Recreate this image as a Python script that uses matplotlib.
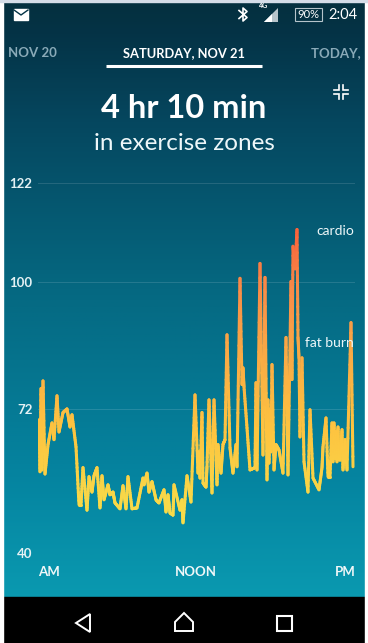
import numpy as np
import matplotlib
matplotlib.use('Agg')
import matplotlib.pyplot as plt
from matplotlib.collections import LineCollection
from matplotlib.colors import LinearSegmentedColormap
from matplotlib.patches import Rectangle, Polygon

plt.rcParams['font.family'] = ['Lato', 'DejaVu Sans']

# position along the day (about 4.6 min per step) and heart rate
sample = [0, 1, 2, 3, 4, 6, 9, 13, 15, 18, 20, 24, 28, 31, 33, 37, 40, 42, 44, 48, 50, 53, 55,
          58, 61, 63, 65, 69, 71, 74, 76, 81, 84, 87, 89, 93, 98, 104, 105, 108, 110, 113, 117,
          120, 125, 127, 129, 131, 134, 135, 141, 143, 144, 148, 152, 156, 159, 160, 161, 163,
          164, 167, 168, 170, 173, 175, 178, 179, 182, 184, 186, 188, 191, 194, 197, 198, 201,
          203, 204, 205, 208, 211, 216, 217, 218, 221, 224, 226, 228, 229, 230, 231, 232, 233,
          235, 237, 240, 244, 247, 249, 252, 253, 254, 256, 258, 259, 260, 261, 263, 265, 269, 271,
          274, 280, 283, 284, 287, 289, 291, 293, 294, 295, 296, 297, 298, 299, 300, 301, 303,
          304, 306, 308, 312, 314]
bpm = [69.6, 58.1, 76.5, 58.5, 78.2, 57.6, 64.1, 68.9, 65.2, 74.9, 66.9, 71.2, 72.0, 68, 70.7,
       63.6, 50.8, 50.8, 59, 49.6, 57, 53.6, 57.2,
       59, 50.1, 57.2, 51.9, 55.2, 53, 53.6, 51.2, 49.9, 55, 49.9, 57, 49.9, 50.1, 56.7, 55.2,
       57.8, 53.6, 55.9, 51.9,
       51.2, 54.1, 49.2, 53, 49, 48.5, 55.2, 49.6, 51.9, 46.8, 57.2, 51.4, 75.1, 57.8, 62.5,
       56.7, 71.2,
       55.6, 54.7, 59.2, 74, 53.4, 74, 55.2, 64.1, 57.8, 64.1, 65.2, 88.4, 63.4, 57.8, 64.1,
       59.2, 100.9,
       77.4, 81.1, 76.9, 67.8, 58.5, 59, 77.8, 58.5, 104.2, 61.8, 101.1, 56.3, 74, 60, 72, 62.5,
       81.8,
       58.5, 64.1, 62.9, 57.8, 87.8, 57.4, 100.2, 78.5, 108, 103, 111.7, 87.8, 83.3, 65.8, 83.3, 60.3,
       53.6, 71.8,
       56.7, 54.1, 59, 63.6, 70, 57, 57, 68.9, 60.3, 68.9, 61, 67, 60.3, 68, 61, 60.7, 67.4,
       58.5, 65.2, 58.5, 91.1, 59.2]
y_ticks = [40, 72, 100, 122]
x_pos = [10, 157, 306]
x_labels = ['AM', 'NOON', 'PM']

W, H = 368, 643
fig = plt.figure(figsize=(W / 100, H / 100), dpi=100, facecolor='white')

# page background + phone chrome, in pixel coords
bg = fig.add_axes([0, 0, 1, 1])
bg.set_xlim(0, W)
bg.set_ylim(H, 0)
bg.axis('off')
grad = LinearSegmentedColormap.from_list('bg', [(0, '#04303f'), (0.05, '#043346'), (0.2, '#06475f'),
                                                (0.5, '#056a83'), (0.8, '#0584a0'), (1, '#0a99b0')])
bg.imshow(np.linspace(0, 1, 300).reshape(-1, 1), cmap=grad, aspect='auto', extent=[3, 365, 597, 2], zorder=0)
bg.set_xlim(0, W)
bg.set_ylim(H, 0)
bg.add_patch(Rectangle((3, 597), 362, 46, color='black', zorder=1))

# chart
ax = fig.add_axes([38 / W, 1 - 553.5 / H, 317 / W, 370.5 / H])
ax.patch.set_alpha(0)
ax.set_xlim(-1, 316)
ax.set_ylim(40, 122)
for s in ax.spines.values():
    s.set_visible(False)
ax.set_yticks(y_ticks)
ax.set_yticklabels([str(v) for v in y_ticks], fontsize=9.5, color='#e4f1f4', fontweight='bold')
ax.set_xticks(x_pos)
ax.set_xticklabels(x_labels, fontsize=9.5, color='#f0f7f8', fontweight='bold')
ax.tick_params(axis='both', length=0)
ax.tick_params(axis='y', pad=4)
ax.tick_params(axis='x', pad=9)
ax.grid(axis='y', color='white', alpha=0.13, lw=0.7)
ax.set_axisbelow(True)

line_cmap = LinearSegmentedColormap.from_list('hr', [(0, '#f7dd4a'), (0.3, '#fdc440'), (0.6, '#f9a646'),
                                                     (0.8, '#f88a48'), (1, '#f9603a')])
segs = []
seg_vals = []
for i in range(len(sample) - 1):
    xs = np.linspace(sample[i], sample[i + 1], 15)
    ys = np.linspace(bpm[i], bpm[i + 1], 15)
    for k in range(14):
        segs.append([(xs[k], ys[k]), (xs[k + 1], ys[k + 1])])
        seg_vals.append((ys[k] + ys[k + 1]) / 2)
lc = LineCollection(segs, array=np.array(seg_vals), cmap=line_cmap, linewidths=2.2, capstyle='round', zorder=3)
lc.set_clim(48, 112)
ax.add_collection(lc)

# zone labels sit above the line
txt = '#eef7f9'
ax.text(315, 111.3, 'cardio', color=txt, fontsize=10, ha='right', va='center', zorder=6)
ax.text(315, 86.5, 'fat burn', color=txt, fontsize=10, ha='right', va='center', zorder=6)

# header
bg.text(32, 53, 'NOV 20', color='#8aaab8', fontsize=9.5, ha='center', va='center', fontweight='bold')
bg.text(184, 53, 'SATURDAY, NOV 21', color='white', fontsize=9.3, ha='center', va='center', fontweight='bold')
bg.text(311, 53, 'TODAY, N', color='#8aaab8', fontsize=9.5, ha='left', va='center', fontweight='bold')
bg.plot([106, 262], [65.5, 65.5], color='white', lw=2.2, solid_capstyle='butt')
bg.text(184, 108, '4 hr 10 min', color='white', fontsize=23.5, ha='center', va='center', fontweight='bold')
bg.text(184, 143, 'in exercise zones', color='#eef7f9', fontsize=17.5, ha='center', va='center')

# collapse icon
for x0, y0, sx, sy in [(339, 90, -1, -1), (343, 90, 1, -1), (339, 94, -1, 1), (343, 94, 1, 1)]:
    bg.plot([x0 + sx * 5, x0, x0], [y0, y0, y0 + sy * 5], color='white', lw=1.2, solid_joinstyle='miter')

# status bar
bg.add_patch(Rectangle((14, 9), 14, 11, color='white', zorder=3))
bg.plot([14, 21, 28], [10, 15, 10], color='#043346', lw=1, zorder=4)
bg.plot([239, 247, 243, 243, 247, 239], [10.5, 17.5, 21, 8, 11.5, 18.5], color='white', lw=1.2)
bg.text(264, 6, '4G', color='white', fontsize=5, ha='center', va='center', fontweight='bold')
bg.add_patch(Polygon([(264, 22), (278, 8), (278, 22)], closed=True, fc='#b8c4ca', ec='none'))
bg.add_patch(Polygon([(264, 22), (272, 14), (272, 22)], closed=True, fc='white', ec='none'))
bg.add_patch(Rectangle((295, 8), 27, 12.5, fc='none', ec='#b5c4cb', lw=0.8))
bg.text(308.5, 14.5, '90%', color='white', fontsize=8, ha='center', va='center')
bg.text(343, 15, '2:04', color='white', fontsize=10.5, ha='center', va='center')

# nav bar
bg.add_patch(Polygon([(90, 614), (76, 623), (90, 632)], closed=True, fc='none', ec='white', lw=1.4, zorder=3))
bg.add_patch(Polygon([(175, 631), (175, 622), (184, 613), (193, 622), (193, 631)], closed=True, fc='none',
                     ec='white', lw=1.4, zorder=3))
bg.add_patch(Rectangle((277, 616), 15, 15, fc='none', ec='white', lw=1.5, zorder=3))

# white page edge on top of clipped text
bg.add_patch(Rectangle((365, 0), 3, H, color='white', zorder=9))
bg.add_patch(Rectangle((0, 0), 3, H, color='white', zorder=9))
bg.add_patch(Rectangle((0, 0), W, 2, color='#d5dde8', zorder=9))

fig.savefig('out.png', dpi=100)
